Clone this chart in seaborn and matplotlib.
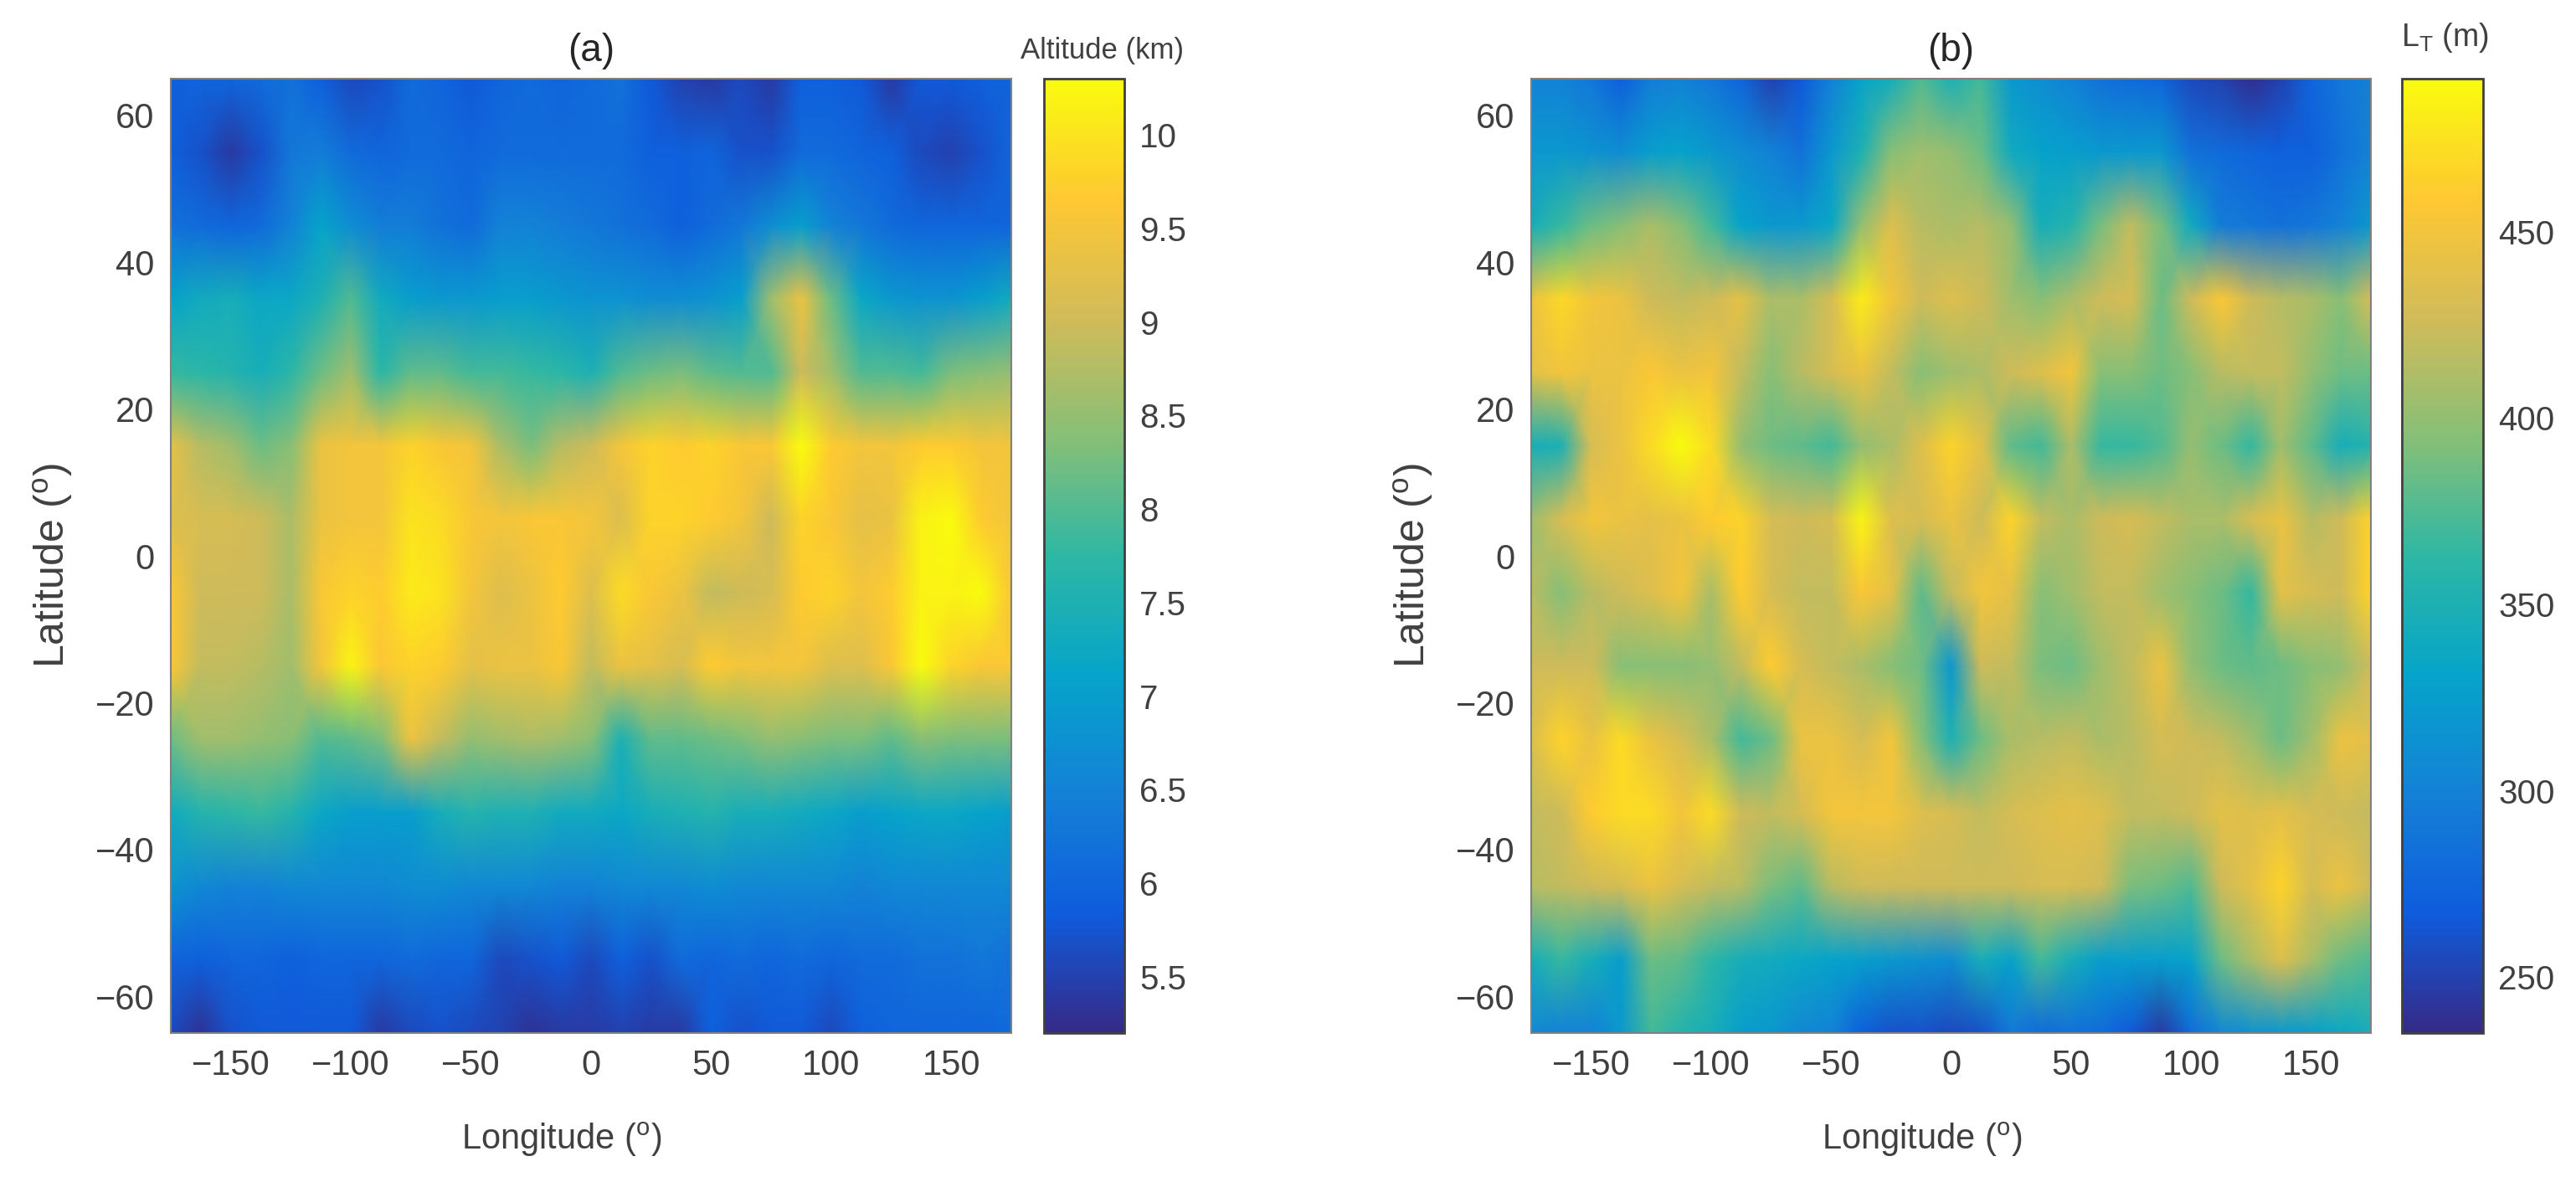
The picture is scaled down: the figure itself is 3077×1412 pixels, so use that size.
import matplotlib
matplotlib.use("Agg")
import matplotlib.pyplot as plt
import pandas as pd
import seaborn as sns

LONS = [-175 + 12.5 * i for i in range(29)]
LATS = [65, 55, 45, 35, 25, 15, 5, -5, -15, -25, -35, -45, -55, -65]
LON_TICKS = [-150, -100, -50, 0, 50, 100, 150]
LAT_TICKS = [60, 40, 20, 0, -20, -40, -60]

ALT_TICKS = [5.5, 6, 6.5, 7, 7.5, 8, 8.5, 9, 9.5, 10]
ALT_TICK_LABELS = ["5.5", "6", "6.5", "7", "7.5", "8", "8.5", "9", "9.5", "10"]
LT_TICKS = [250, 300, 350, 400, 450]

# tropopause altitude (km), one row per latitude
ALTITUDE = [
    [5.9, 6.0, 6.0, 6.1, 6.2, 5.9, 5.6, 5.7, 6.1, 6.0, 5.8, 6.0, 6.1, 6.0, 6.1, 6.2, 5.8, 5.5, 5.4, 5.6, 5.4, 5.9, 5.9, 5.8, 5.4, 5.8, 5.8, 5.9, 6.0],
    [5.9, 5.7, 5.4, 5.7, 6.3, 6.4, 6.1, 6.0, 6.1, 6.1, 6.0, 6.1, 6.1, 6.1, 6.1, 6.1, 5.9, 5.9, 6.0, 5.7, 5.7, 6.1, 6.1, 6.0, 5.9, 5.6, 5.5, 5.7, 6.0],
    [6.2, 6.1, 6.0, 6.1, 6.5, 7.1, 6.7, 6.4, 6.4, 6.2, 6.1, 6.5, 6.5, 6.4, 6.3, 6.2, 6.1, 5.9, 6.1, 6.3, 6.7, 7.0, 6.5, 6.3, 6.1, 6.0, 6.0, 6.0, 6.0],
    [7.1, 7.3, 7.4, 7.2, 7.2, 7.5, 8.0, 7.3, 7.0, 6.9, 6.9, 7.0, 7.0, 6.9, 6.8, 6.8, 6.7, 6.7, 6.8, 7.0, 8.6, 9.4, 8.2, 7.2, 6.9, 6.8, 6.8, 7.0, 7.3],
    [7.8, 7.7, 7.6, 7.4, 7.7, 8.2, 8.6, 7.7, 8.1, 8.1, 7.9, 7.9, 7.8, 7.7, 7.5, 8.0, 8.2, 8.3, 8.1, 8.0, 8.0, 9.0, 8.6, 8.0, 8.0, 7.9, 8.3, 8.4, 8.5],
    [9.3, 8.8, 8.6, 8.2, 8.4, 9.4, 9.5, 9.5, 9.8, 9.6, 9.5, 8.7, 8.3, 8.8, 9.0, 9.5, 9.8, 9.7, 9.8, 9.6, 9.6, 10.3, 9.7, 9.5, 9.5, 9.7, 9.7, 9.5, 9.5],
    [9.2, 9.1, 9.1, 9.0, 8.7, 9.4, 9.5, 9.5, 10.0, 9.9, 9.6, 9.5, 9.6, 9.6, 9.5, 9.2, 9.8, 9.8, 9.7, 9.5, 9.0, 9.8, 9.6, 9.3, 9.4, 10.2, 10.3, 9.7, 9.5],
    [9.6, 9.0, 9.0, 9.0, 8.7, 9.6, 9.8, 9.7, 10.1, 10.0, 9.5, 9.2, 9.4, 9.7, 9.2, 9.9, 9.6, 9.4, 8.9, 9.0, 9.1, 9.7, 9.8, 9.5, 9.7, 10.2, 10.2, 10.3, 9.6],
    [9.6, 8.9, 8.9, 8.8, 8.6, 9.5, 10.2, 9.6, 9.8, 9.7, 9.3, 9.4, 9.4, 9.6, 8.9, 9.4, 9.3, 9.1, 9.7, 9.5, 9.5, 9.5, 9.2, 9.2, 9.6, 10.3, 9.8, 9.6, 9.6],
    [8.2, 8.6, 8.6, 8.5, 8.4, 8.0, 8.1, 8.3, 9.4, 8.9, 8.5, 8.6, 8.7, 8.6, 8.4, 7.5, 8.1, 8.1, 8.2, 8.3, 8.5, 8.4, 8.3, 8.3, 8.1, 8.4, 8.3, 8.3, 8.3],
    [7.3, 7.6, 7.7, 7.8, 7.6, 7.2, 7.0, 7.0, 7.0, 7.4, 7.6, 7.5, 7.5, 7.3, 7.3, 7.2, 7.4, 7.5, 7.6, 7.4, 7.4, 7.3, 7.2, 7.0, 7.1, 7.2, 7.2, 7.1, 7.0],
    [6.8, 6.6, 6.5, 6.5, 6.6, 6.6, 6.6, 6.6, 6.7, 6.7, 6.6, 6.6, 6.6, 6.5, 6.5, 6.6, 6.6, 6.6, 6.7, 6.6, 6.6, 6.6, 6.6, 6.5, 6.6, 6.6, 6.6, 6.6, 6.6],
    [6.0, 5.9, 6.0, 6.0, 5.9, 6.0, 6.0, 6.0, 6.1, 6.0, 6.0, 5.6, 5.7, 5.8, 5.6, 5.9, 5.7, 6.1, 6.0, 6.1, 6.0, 6.1, 6.0, 6.1, 6.1, 6.2, 6.2, 6.3, 6.2],
    [5.6, 5.3, 5.7, 5.8, 5.8, 5.8, 5.8, 5.4, 5.6, 5.7, 5.6, 5.5, 5.3, 5.4, 5.4, 5.5, 5.4, 5.4, 5.9, 5.7, 5.8, 5.8, 5.6, 5.9, 6.0, 6.0, 6.0, 6.0, 6.1],
]

# L_T (m), one row per latitude
LT = [
    [300, 300, 290, 270, 295, 300, 290, 275, 250, 265, 300, 330, 345, 375, 350, 370, 320, 310, 300, 285, 280, 275, 255, 250, 238, 250, 275, 290, 300],
    [320, 320, 315, 310, 325, 330, 320, 310, 300, 285, 320, 350, 395, 405, 400, 385, 340, 330, 325, 320, 320, 320, 285, 280, 275, 270, 270, 285, 300],
    [345, 365, 385, 395, 410, 395, 370, 330, 320, 320, 335, 400, 435, 415, 410, 415, 400, 345, 355, 390, 420, 390, 340, 295, 290, 285, 290, 300, 320],
    [445, 468, 450, 445, 425, 420, 425, 440, 410, 410, 430, 480, 450, 425, 435, 425, 405, 395, 410, 425, 430, 385, 425, 455, 425, 415, 410, 395, 430],
    [440, 450, 445, 445, 455, 445, 450, 420, 395, 415, 430, 445, 420, 395, 405, 410, 425, 435, 450, 395, 395, 385, 395, 415, 420, 420, 400, 385, 385],
    [345, 350, 430, 445, 470, 490, 470, 400, 385, 380, 370, 400, 410, 435, 465, 440, 380, 370, 410, 365, 365, 375, 400, 385, 365, 405, 380, 345, 355],
    [405, 430, 450, 445, 440, 445, 460, 465, 430, 425, 430, 485, 435, 430, 445, 425, 465, 420, 410, 425, 430, 420, 410, 410, 430, 445, 415, 425, 465],
    [415, 395, 415, 425, 435, 450, 410, 460, 430, 420, 420, 455, 440, 380, 420, 450, 440, 395, 405, 420, 420, 405, 395, 385, 365, 440, 430, 425, 465],
    [425, 425, 425, 395, 395, 395, 400, 420, 460, 430, 420, 410, 395, 385, 320, 425, 420, 390, 385, 405, 420, 445, 400, 385, 380, 385, 395, 400, 425],
    [435, 465, 445, 470, 445, 430, 410, 370, 385, 445, 445, 430, 450, 395, 350, 385, 410, 415, 420, 410, 415, 430, 425, 420, 405, 385, 405, 445, 440],
    [420, 425, 460, 470, 470, 450, 470, 425, 420, 430, 450, 450, 450, 435, 430, 420, 430, 435, 440, 435, 420, 420, 425, 440, 435, 440, 430, 425, 420],
    [415, 420, 425, 430, 445, 430, 420, 415, 390, 380, 415, 425, 425, 425, 425, 425, 425, 430, 430, 425, 390, 385, 375, 425, 440, 465, 430, 445, 425],
    [345, 365, 345, 325, 385, 380, 360, 345, 340, 335, 330, 325, 320, 315, 310, 345, 330, 370, 345, 325, 325, 325, 330, 385, 410, 435, 410, 385, 375],
    [305, 300, 300, 320, 370, 355, 345, 325, 320, 305, 300, 270, 260, 260, 255, 260, 290, 280, 285, 280, 265, 245, 280, 305, 315, 320, 325, 335, 345],
]

TEXT_COLOR = "#404040"
W, H = 3077, 1412


def to_fig(x0, x1, y0, y1):
    """pixel box of the reference -> figure fractions"""
    return [x0 / W, 1 - y1 / H, (x1 - x0) / W, (y1 - y0) / H]


def draw_panel(fig, values, box, cbar_box, vmin, vmax, cmap, title, cbar_label, label_pos, label_size, ticks, tick_labels=None):
    ax = fig.add_axes(to_fig(*box))
    cax = fig.add_axes(to_fig(*cbar_box))
    table = pd.DataFrame(values, index=LATS, columns=LONS)

    # gouraud shading gives the smooth streaks, cell positions are the row/column numbers
    sns.heatmap(table, ax=ax, cbar_ax=cax, cmap=cmap, vmin=vmin, vmax=vmax,
                shading="gouraud", xticklabels=False, yticklabels=False)
    ax.set_xlim(0, len(LONS) - 1)
    ax.set_ylim(len(LATS) - 1, 0)

    ax.set_xticks([(lon - LONS[0]) / 12.5 for lon in LON_TICKS])
    ax.set_xticklabels([str(lon).replace("-", "\u2212") for lon in LON_TICKS], rotation=0)
    ax.set_yticks([(LATS[0] - lat) / 10 for lat in LAT_TICKS])
    ax.set_yticklabels([str(lat).replace("-", "\u2212") for lat in LAT_TICKS], rotation=0)
    ax.tick_params(length=0, labelsize=30, labelcolor=TEXT_COLOR, pad=14)

    ax.set_xlabel(r"Longitude ($^{\mathrm{o}}$)", fontsize=30, color=TEXT_COLOR)
    ax.xaxis.set_label_coords(0.465, -0.092)
    ax.set_ylabel(r"Latitude ($^{\mathrm{o}}$)", fontsize=36, color=TEXT_COLOR)
    ax.yaxis.set_label_coords(-0.115, 0.49)
    ax.set_title(title, fontsize=33, color="#262626", pad=15)
    for spine in ax.spines.values():
        spine.set_visible(True)
        spine.set_color("#808080")
        spine.set_linewidth(1.5)

    cax.set_yticks(ticks)
    cax.set_yticklabels(tick_labels if tick_labels else [str(t) for t in ticks])
    cax.tick_params(axis="y", direction="in", length=12, width=2, color="#333333",
                    labelsize=29, labelcolor=TEXT_COLOR, pad=13)
    cax.text(label_pos[0], label_pos[1], cbar_label, transform=cax.transAxes, fontsize=label_size,
             color=TEXT_COLOR, ha="center", va="center")
    outline = ax.collections[0].colorbar.outline
    outline.set_visible(True)
    outline.set_linewidth(2)
    outline.set_edgecolor("#404040")


def main():
    sns.set_theme(style="white")
    plt.rcParams["font.family"] = ["Liberation Sans", "DejaVu Sans"]
    plt.rcParams["mathtext.fontset"] = "custom"
    plt.rcParams["mathtext.rm"] = "Liberation Sans"
    plt.rcParams["mathtext.default"] = "regular"

    parula = sns.blend_palette(["#352a87", "#0f5cdd", "#1481d6", "#06a4ca", "#2eb7a4",
                                "#87bf77", "#d1bb59", "#fec832", "#f9fb0e"], n_colors=256, as_cmap=True)

    fig = plt.figure(figsize=(W / 100, H / 100), dpi=100)
    draw_panel(fig, ALTITUDE, (204, 1208, 94, 1234), (1247, 1343, 94, 1234), 5.2, 10.3, parula,
               "(a)", "Altitude (km)", (0.72, 1.029), 25, ALT_TICKS, ALT_TICK_LABELS)
    draw_panel(fig, LT, (1829, 2832, 94, 1234), (2869, 2966, 94, 1234), 235, 491, parula,
               "(b)", r"L$_{\mathrm{T}}$ (m)", (0.53, 1.043), 27, LT_TICKS)
    fig.savefig("out.png", dpi=100)


main()
